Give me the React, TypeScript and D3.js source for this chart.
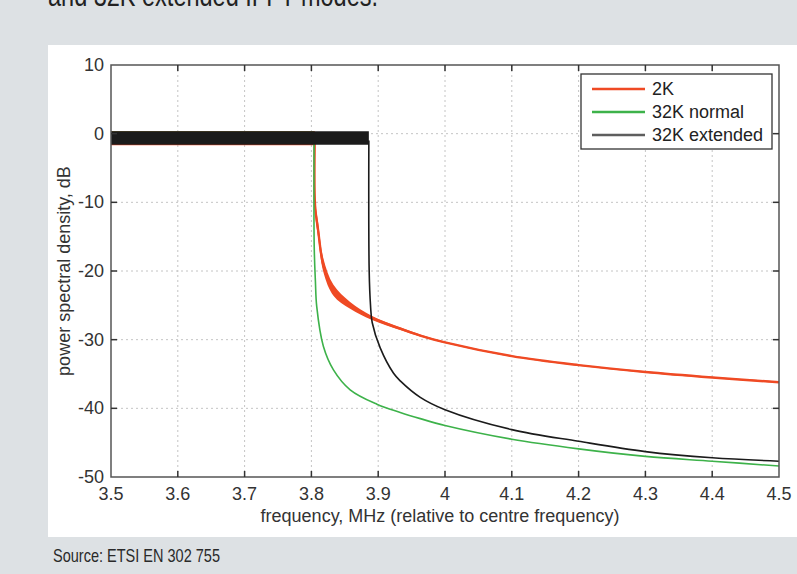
import React, { useRef, useEffect } from "react";
import * as d3 from "d3";

// axis ticks
const xTicks = [3.5, 3.6, 3.7, 3.8, 3.9, 4, 4.1, 4.2, 4.3, 4.4, 4.5];
const yTicks = [10, 0, -10, -20, -30, -40, -50];

// series names + colours
const seriesNames = ["2K", "32K normal", "32K extended"];
const seriesColors = ["#ef4a24", "#3db24a", "#1b1b1b"];

// passband (ripple band) per series: edge freq, top, bottom in dB
const bandEdge = [3.805, 3.804, 3.886];
const bandHi = [0.4, 0.3, 0.35];
const bandLo = [-1.7, -1.5, -1.6];

// 2K roll-off
const redFreq = [3.805, 3.8055, 3.81, 3.818, 3.833, 3.858, 3.89, 3.933, 3.963, 4.0, 4.1, 4.2, 4.3, 4.4, 4.5];
const redDb = [-1, -10.5, -14, -19.2, -22.8, -25.0, -26.8, -28.4, -29.4, -30.4, -32.4, -33.7, -34.7, -35.5, -36.2];
const redRipple = [0, 0.9, 1.1, 1.0, 0.8, 0.5, 0.3, 0.2, 0.15, 0.1, 0.1, 0.1, 0.1, 0.1, 0.1];

// 32K normal roll-off
const greenFreq = [3.804, 3.8042, 3.806, 3.808, 3.818, 3.833, 3.858, 3.898, 3.933, 3.963, 4.0, 4.1, 4.2, 4.3, 4.4, 4.5];
const greenDb = [-1, -16.4, -21.5, -25.2, -31, -34.4, -37.3, -39.4, -40.6, -41.5, -42.5, -44.5, -45.9, -47.0, -47.7, -48.4];

// 32K extended roll-off
const blackFreq = [3.886, 3.8865, 3.8885, 3.891, 3.903, 3.923, 3.933, 3.963, 4.0, 4.1, 4.2, 4.3, 4.4, 4.5];
const blackDb = [-1, -20, -25, -27.5, -31.2, -34.9, -36.0, -38.4, -40.2, -43.1, -44.8, -46.3, -47.2, -47.7];

const W = 797, H = 574;
const margin = { top: 65, right: 18, bottom: 97, left: 111 };

function Chart() {
  const ref = useRef(null);

  useEffect(() => {
    const svg = d3.select(ref.current);
    svg.selectAll("*").remove();

    const font = "'Liberation Sans', Arial, Helvetica, sans-serif";

    svg.append("rect").attr("width", W).attr("height", H).attr("fill", "#dde1e4");
    svg.append("rect").attr("x", 48).attr("y", 45).attr("width", W - 48).attr("height", 492).attr("fill", "#fff");

    // caption cut off at the top + source line
    svg.append("text")
      .attr("x", 48).attr("y", 6)
      .attr("font-family", "'Liberation Sans Narrow', 'Liberation Sans', Arial, sans-serif")
      .attr("font-size", 31).attr("fill", "#222")
      .attr("textLength", 330).attr("lengthAdjust", "spacingAndGlyphs")
      .text("and 32K extended IFFT modes.");
    svg.append("text")
      .attr("x", 53).attr("y", 562)
      .attr("font-family", "'Liberation Sans Narrow', 'Liberation Sans', Arial, sans-serif")
      .attr("font-size", 19).attr("fill", "#2a2a2a")
      .attr("textLength", 167).attr("lengthAdjust", "spacingAndGlyphs")
      .text("Source: ETSI EN 302 755");

    const x = d3.scaleLinear().domain([3.5, 4.5]).range([margin.left, W - margin.right]);
    const y = d3.scaleLinear().domain([-50, 10]).range([H - margin.bottom, margin.top]);
    const [x0, x1] = x.range();
    const [y0, y1] = y.range();

    // grid
    const g = svg.append("g");
    g.selectAll(".vgrid").data(xTicks.slice(1, -1)).join("line")
      .attr("x1", d => x(d)).attr("x2", d => x(d)).attr("y1", y1).attr("y2", y0)
      .attr("stroke", "#c4c4c4").attr("stroke-dasharray", "2,3");
    g.selectAll(".hgrid").data(yTicks.slice(1, -1)).join("line")
      .attr("y1", d => y(d)).attr("y2", d => y(d)).attr("x1", x0).attr("x2", x1)
      .attr("stroke", "#c4c4c4").attr("stroke-dasharray", "2,3");

    // data
    const plot = svg.append("g");
    const band = d3.area().x(d => x(d[0])).y0(d => y(d[1])).y1(d => y(d[2]));
    const line = d3.line().x(d => x(d[0])).y(d => y(d[1])).curve(d3.curveCatmullRom.alpha(0.5));
    const rippleArea = d3.area().x(d => x(d[0])).y0(d => y(d[1] - d[2])).y1(d => y(d[1] + d[2]))
      .curve(d3.curveCatmullRom.alpha(0.5));

    const decay = [
      redFreq.map((f, i) => [f, redDb[i]]),
      greenFreq.map((f, i) => [f, greenDb[i]]),
      blackFreq.map((f, i) => [f, blackDb[i]]),
    ];

    seriesNames.forEach((name, i) => {
      plot.append("path")
        .datum([[3.5, bandHi[i], bandLo[i]], [bandEdge[i], bandHi[i], bandLo[i]]])
        .attr("d", band).attr("fill", seriesColors[i]);
      if (i === 0) {
        plot.append("path")
          .datum(redFreq.map((f, k) => [f, redDb[k], redRipple[k]]))
          .attr("d", rippleArea).attr("fill", seriesColors[0]);
      }
      plot.append("path")
        .datum(decay[i])
        .attr("d", line).attr("fill", "none")
        .attr("stroke", seriesColors[i]).attr("stroke-width", i === 0 ? 2.4 : 1.6);
    });

    // frame + ticks on all sides
    svg.append("rect").attr("x", x0).attr("y", y1).attr("width", x1 - x0).attr("height", y0 - y1)
      .attr("fill", "none").attr("stroke", "#555").attr("stroke-width", 1.5);
    const tk = svg.append("g").attr("stroke", "#333").attr("stroke-width", 1.5);
    xTicks.slice(1, -1).forEach(t => {
      tk.append("line").attr("x1", x(t)).attr("x2", x(t)).attr("y1", y0).attr("y2", y0 - 6);
      tk.append("line").attr("x1", x(t)).attr("x2", x(t)).attr("y1", y1).attr("y2", y1 + 6);
    });
    yTicks.slice(1, -1).forEach(t => {
      tk.append("line").attr("y1", y(t)).attr("y2", y(t)).attr("x1", x0).attr("x2", x0 + 6);
      tk.append("line").attr("y1", y(t)).attr("y2", y(t)).attr("x1", x1).attr("x2", x1 - 6);
    });

    // tick labels
    svg.append("g").selectAll("text").data(xTicks).join("text")
      .attr("x", d => x(d)).attr("y", y0 + 23)
      .attr("text-anchor", "middle").attr("font-family", font).attr("font-size", 18).attr("fill", "#333")
      .text(d => d3.format("")(d));
    svg.append("g").selectAll("text").data(yTicks).join("text")
      .attr("x", x0 - 7).attr("y", d => y(d) + 6)
      .attr("text-anchor", "end").attr("font-family", font).attr("font-size", 18).attr("fill", "#333")
      .text(d => d);

    // axis titles
    svg.append("text").attr("x", (x0 + x1) / 2 - 5).attr("y", 522)
      .attr("text-anchor", "middle").attr("font-family", font).attr("font-size", 18).attr("fill", "#333")
      .text("frequency, MHz (relative to centre frequency)");
    svg.append("text").attr("transform", "translate(70,271) rotate(-90)")
      .attr("text-anchor", "middle").attr("font-family", font).attr("font-size", 18).attr("fill", "#333")
      .text("power spectral density, dB");

    // legend
    const lg = svg.append("g");
    lg.append("rect").attr("x", 581).attr("y", 74).attr("width", 191).attr("height", 75)
      .attr("fill", "#fff").attr("stroke", "#333").attr("stroke-width", 1.3);
    seriesNames.forEach((name, i) => {
      const cy = 89 + i * 23;
      lg.append("line").attr("x1", 592).attr("x2", 645).attr("y1", cy).attr("y2", cy)
        .attr("stroke", seriesColors[i]).attr("stroke-width", 2.5).attr("opacity", i === 2 ? 0.7 : 1);
      lg.append("text").attr("x", 652).attr("y", cy + 6)
        .attr("font-family", font).attr("font-size", 18).attr("fill", "#222").text(name);
    });
  }, []);

  return <svg ref={ref} width={W} height={H} style={{ position: "absolute", left: 0, top: 0 }} />;
}

export default function App() {
  return <Chart />;
}
